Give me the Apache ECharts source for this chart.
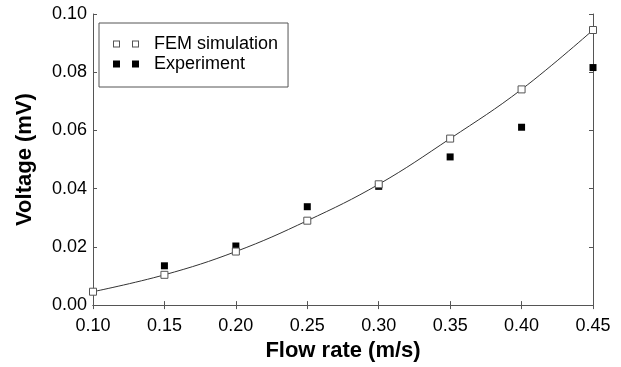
<!DOCTYPE html>
<html>
<head>
<meta charset="utf-8">
<script src="https://cdn.jsdelivr.net/npm/echarts@6/dist/echarts.min.js"></script>
<style>
  html, body { margin: 0; padding: 0; background: #fff; }
  #chart { width: 621px; height: 367px; }
</style>
</head>
<body>
<div id="chart"></div>
<script>
const flowFem = [0.10, 0.15, 0.20, 0.25, 0.30, 0.35, 0.40, 0.45];
const voltFem = [0.0046, 0.0104, 0.0184, 0.0290, 0.0415, 0.0572, 0.0741, 0.0945];
const flowExp = [0.15, 0.20, 0.25, 0.30, 0.35, 0.40, 0.45];
const voltExp = [0.0135, 0.0203, 0.0338, 0.0408, 0.0509, 0.0611, 0.0816];

const font = 'Liberation Sans, Arial, sans-serif';
const axisGray = '#555';

const pairs = (xs, ys) => xs.map((x, i) => [x, ys[i]]);

// two squares side by side for the legend, like the original plotting package
const hollowPair = 'path://M0 0H7V7H0ZM1 1V6H6V1ZM19 0H26V7H19ZM20 1V6H25V1Z';
const solidPair = 'path://M0 0H7V7H0ZM19 0H26V7H19Z';

const chart = echarts.init(document.getElementById('chart'), null, { renderer: 'canvas' });

const baseAxis = {
  axisLine: { show: true, lineStyle: { color: axisGray, width: 1 } },
  axisTick: { show: true, inside: true, length: 4, lineStyle: { color: axisGray } },
  splitLine: { show: false },
};

chart.setOption({
  animation: false,
  textStyle: { fontFamily: font },
  grid: { left: 93, right: 28, top: 14, bottom: 61 },
  legend: {
    left: 99,
    top: 23,
    orient: 'vertical',
    selectedMode: false,
    padding: [11, 10, 13, 14],
    itemGap: 0,
    itemWidth: 26,
    itemHeight: 7,
    borderColor: axisGray,
    borderWidth: 1,
    textStyle: { fontSize: 18, color: '#000', fontFamily: font, lineHeight: 20, padding: [0, 0, 0, 10] },
    data: [
      { name: 'FEM simulation', icon: hollowPair, itemStyle: { color: axisGray, borderWidth: 0 } },
      { name: 'Experiment', icon: solidPair, itemStyle: { color: '#000', borderWidth: 0 } },
    ],
  },
  xAxis: [
    {
      ...baseAxis,
      type: 'value',
      min: 0.10,
      max: 0.45,
      interval: 0.05,
      name: 'Flow rate (m/s)',
      nameLocation: 'middle',
      nameGap: 32,
      nameTextStyle: { fontSize: 22, fontWeight: 'bold', color: '#000', fontFamily: font },
      axisLabel: { fontSize: 18, color: '#000', margin: 12, formatter: v => v.toFixed(2) },
    },
    {
      ...baseAxis,
      type: 'value',
      position: 'top',
      min: 0.10,
      max: 0.45,
      interval: 0.05,
      axisLabel: { show: false },
    },
  ],
  yAxis: [
    {
      ...baseAxis,
      type: 'value',
      min: 0,
      max: 0.10,
      interval: 0.02,
      name: 'Voltage (mV)',
      nameLocation: 'middle',
      nameGap: 57,
      nameTextStyle: { fontSize: 22, fontWeight: 'bold', color: '#000', fontFamily: font },
      axisLabel: { fontSize: 18, color: '#000', margin: 6, formatter: v => v.toFixed(2) },
    },
    {
      ...baseAxis,
      type: 'value',
      position: 'right',
      min: 0,
      max: 0.10,
      interval: 0.02,
      axisLabel: { show: false },
    },
  ],
  series: [
    {
      name: 'fit',
      type: 'line',
      data: pairs(flowFem, voltFem),
      smooth: 0.4,
      showSymbol: false,
      symbol: 'none',
      lineStyle: { color: '#333', width: 1 },
      z: 1,
      silent: true,
    },
    {
      name: 'FEM simulation',
      type: 'scatter',
      data: pairs(flowFem, voltFem),
      symbol: 'rect',
      symbolSize: 7,
      itemStyle: { color: '#fff', borderColor: axisGray, borderWidth: 1, opacity: 1 },
      z: 3,
    },
    {
      name: 'Experiment',
      type: 'scatter',
      data: pairs(flowExp, voltExp),
      symbol: 'rect',
      symbolSize: 7,
      itemStyle: { color: '#000', opacity: 1 },
      z: 2,
    },
  ],
});
</script>
</body>
</html>
